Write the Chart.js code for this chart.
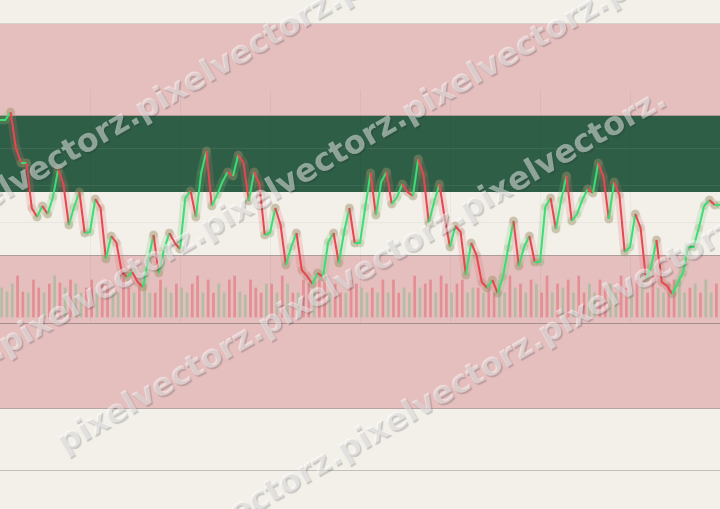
<!DOCTYPE html>
<html>
<head>
<meta charset="utf-8">
<script src="https://cdn.jsdelivr.net/npm/chart.js@4.4.1/dist/chart.umd.min.js"></script>
<style>
html, body { margin: 0; padding: 0; background: #f3f0ea; }
#wrap { width: 720px; height: 509px; }
</style>
</head>
<body>
<div id="wrap"><canvas id="priceChart"></canvas></div>
<script>
// price path (axis units, reversed scale), one value per session
const closes = [
    120, 120, 112, 148, 163, 163, 208, 217, 206, 214,
    197, 169, 185, 225, 207, 192, 233, 232, 199, 208,
    259, 236, 243, 272, 277, 272, 282, 287, 260, 235,
    273, 249, 233, 243, 249, 198, 191, 217, 173, 151,
    206, 195, 182, 172, 176, 155, 163, 201, 172, 184,
    235, 233, 208, 225, 265, 247, 233, 270, 276, 284,
    273, 277, 242, 233, 263, 232, 208, 243, 243, 207,
    173, 215, 182, 172, 204, 197, 184, 192, 196, 159,
    175, 223, 202, 184, 218, 247, 226, 232, 275, 243,
    255, 282, 288, 280, 293, 277, 248, 221, 266, 247,
    236, 262, 262, 207, 198, 229, 200, 176, 221, 214,
    200, 189, 193, 163, 177, 219, 182, 195, 252, 247,
    214, 228, 278, 267, 240, 282, 286, 294, 283, 273,
    247, 247, 228, 206, 200, 205, 205
];

// volume per session and its direction (1 = up/green, 0 = down/red)
const volumes = [
    29, 25, 33, 41, 25, 24, 37, 29, 24, 33, 41, 34, 29, 37, 33, 24, 29, 37, 24, 33,
    37, 24, 24, 41, 29, 24, 34, 41, 24, 24, 37, 29, 24, 33, 29, 24, 33, 41, 24, 37,
    24, 33, 24, 37, 41,
    25, 22, 37, 29, 24, 33, 33, 24, 41, 33, 24, 24, 37, 33, 29, 37, 41, 24, 33, 24,
    24, 37, 33, 29, 24, 29, 24, 37, 24, 37, 24, 29, 24, 41, 29, 33, 37, 24, 41, 33,
    24, 33, 37, 24, 29,
    29, 24, 33, 24, 37, 24, 41, 29, 33, 24, 37, 33, 24, 41, 24, 33, 29, 37, 24, 41,
    24, 33, 24, 37, 29, 33, 24, 41, 29, 24, 37, 33, 24, 41, 29, 24, 33, 37, 41, 24,
    29, 33, 24, 37, 24, 33, 29
];
const volumeUp = [
    1, 1, 1, 0, 0, 1, 0, 0, 1, 0, 1, 0, 1, 0, 1, 1, 0, 0, 1, 0,
    0, 1, 1, 0, 0, 1, 0, 1, 1, 0, 0, 1, 1, 0, 1, 1, 0, 0, 1, 0,
    0, 1, 1, 0, 0,
    1, 1, 0, 0, 0, 1, 0, 1, 0, 1, 0, 1, 0, 0, 1, 0, 0, 1, 0, 0,
    1, 0, 0, 1, 1, 0, 1, 0, 1, 0, 0, 1, 1, 0, 1, 0, 0, 1, 0, 0,
    1, 0, 0, 1, 1,
    0, 1, 0, 0, 1, 1, 0, 1, 0, 1, 0, 1, 0, 0, 1, 0, 1, 0, 1, 0,
    0, 1, 1, 0, 0, 1, 1, 0, 0, 1, 0, 1, 0, 0, 1, 1, 0, 0, 1, 1,
    0, 1, 0, 1, 1, 0, 1
];

const GREEN = '#3ddc74';
const RED = '#e5484f';

// background panels, in the price axis units
const bandRows = [
    { from: 23, to: 115, color: '#e5bebe' },
    { from: 115, to: 192, color: '#2e5e46' },
    { from: 192, to: 255, color: '#f3efe9' },
    { from: 255, to: 408, color: '#e5bebe' }
];
const ruleRows = [
    { at: 23, color: '#d9d2cc' },
    { at: 115, color: '#b39896' },
    { at: 255, color: '#ac9d9a' },
    { at: 323, color: '#a58f8e' },
    { at: 408, color: '#b9a6a4' },
    { at: 470, color: '#c4beb9' }
];
const gridRows = [
    { at: 148, color: 'rgba(255,255,255,0.07)' },
    { at: 185, color: 'rgba(255,255,255,0.07)' },
    { at: 222, color: 'rgba(0,0,0,0.04)' }
];
const gridEvery = 17;

// watermark rows: anchor point, and how many copies either side
const markRows = [
    { x: 138, y: 114, from: -3, to: 1 },
    { x: 405, y: 116, from: -3, to: 1 },
    { x: 60, y: 446, from: 0, to: 2 },
    { x: 340, y: 454, from: -3, to: 2 }
];

const panelPlugin = {
    id: 'panels',
    beforeDatasetsDraw(chart) {
        const { ctx, chartArea, scales } = chart;
        const y = scales.y, x = scales.x;
        ctx.save();
        ctx.fillStyle = '#f3f0ea';
        ctx.fillRect(0, 0, chart.width, chart.height);
        bandRows.forEach(b => {
            const y0 = y.getPixelForValue(b.from), y1 = y.getPixelForValue(b.to);
            ctx.fillStyle = b.color;
            ctx.fillRect(chartArea.left, y0, chartArea.right - chartArea.left, y1 - y0);
        });
        gridRows.forEach(g => {
            const py = Math.round(y.getPixelForValue(g.at)) + 0.5;
            ctx.strokeStyle = g.color;
            ctx.lineWidth = 1;
            ctx.beginPath();
            ctx.moveTo(chartArea.left, py);
            ctx.lineTo(chartArea.right, py);
            ctx.stroke();
        });
        ctx.strokeStyle = 'rgba(0,0,0,0.035)';
        for (let i = gridEvery; i < closes.length; i += gridEvery) {
            const px = Math.round(x.getPixelForValue(i)) + 0.5;
            ctx.beginPath();
            ctx.moveTo(px, y.getPixelForValue(90));
            ctx.lineTo(px, y.getPixelForValue(323));
            ctx.stroke();
        }
        ruleRows.forEach(r => {
            const py = Math.round(y.getPixelForValue(r.at)) + 0.5;
            ctx.strokeStyle = r.color;
            ctx.beginPath();
            ctx.moveTo(chartArea.left, py);
            ctx.lineTo(chartArea.right, py);
            ctx.stroke();
        });
        ctx.restore();
    }
};

const watermarkPlugin = {
    id: 'watermark',
    afterDraw(chart) {
        const ctx = chart.ctx;
        const text = 'pixelvectorz.';
        ctx.save();
        ctx.font = 'bold 32px "DejaVu Sans"';
        ctx.textBaseline = 'middle';
        const w = ctx.measureText(text).width;
        ctx.fillStyle = 'rgba(255,255,255,0.47)';
        ctx.shadowColor = 'rgba(40,40,40,0.45)';
        ctx.shadowOffsetX = 1.5;
        ctx.shadowOffsetY = 1.5;
        ctx.shadowBlur = 1;
        markRows.forEach(r => {
            ctx.save();
            ctx.translate(r.x, r.y);
            ctx.rotate(-Math.PI / 6);
            for (let k = r.from; k <= r.to; k++) {
                ctx.fillText(text, k * w, 0);
            }
            ctx.restore();
        });
        ctx.restore();
    }
};

const upOrDown = (c, up, down) => c.p1.parsed.y <= c.p0.parsed.y ? up : down;
const points = closes.map((v, i) => ({ x: i, y: v }));

window.priceChart = new Chart(document.getElementById('priceChart').getContext('2d'), {
    type: 'line',
    data: {
        datasets: [
            {
                label: 'Price',
                data: points,
                borderWidth: 2,
                pointRadius: 0,
                tension: 0,
                order: 1,
                segment: { borderColor: c => upOrDown(c, GREEN, RED) }
            },
            {
                label: 'Glow',
                data: points,
                borderWidth: 9,
                borderCapStyle: 'round',
                borderJoinStyle: 'round',
                pointRadius: 4,
                pointBorderWidth: 0,
                pointBackgroundColor: 'rgba(135,125,85,0.18)',
                tension: 0,
                order: 2,
                segment: {
                    borderColor: c => upOrDown(c, 'rgba(120,205,125,0.2)', 'rgba(225,110,115,0.2)')
                }
            },
            {
                type: 'bar',
                label: 'Volume',
                data: volumes.map((v, i) => ({ x: i + 0.32, y: v })),
                yAxisID: 'yv',
                barThickness: 2,
                backgroundColor: volumeUp.map(u => u ? 'rgba(140,185,140,0.55)' : 'rgba(228,95,105,0.5)'),
                order: 3
            }
        ]
    },
    options: {
        responsive: true,
        maintainAspectRatio: false,
        animation: false,
        layout: { padding: 0, autoPadding: false },
        plugins: {
            legend: { display: false },
            tooltip: { enabled: false }
        },
        scales: {
            x: { type: 'linear', min: 0, max: closes.length - 1, offset: false, display: false },
            y: { type: 'linear', min: 0, max: 509, reverse: true, display: false },
            yv: { type: 'linear', min: -192, max: 317, display: false }
        }
    },
    plugins: [panelPlugin, watermarkPlugin]
});
</script>
</body>
</html>
